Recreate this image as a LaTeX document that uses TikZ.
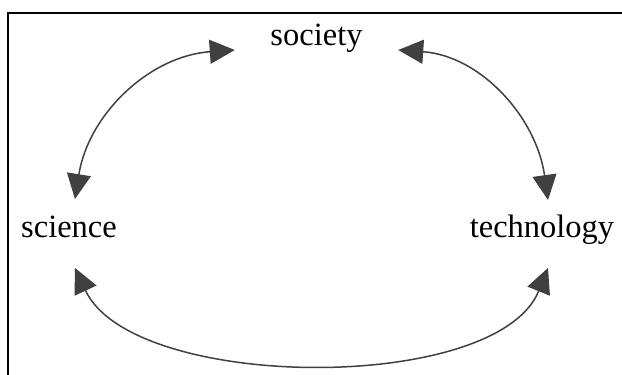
\documentclass[tikz,border=0pt]{standalone}
\usepackage{fontspec}
\setmainfont{Liberation Serif}
\usetikzlibrary{arrows.meta}
\definecolor{linkgray}{HTML}{404040}
\tikzset{
  word/.style={inner sep=0pt, anchor=base, font=\fontsize{32.5}{38}\selectfont},
  link/.style={draw=linkgray, line width=1.5pt, {Triangle[length=25pt,width=24pt]}-{Triangle[length=25pt,width=24pt]}}
}
\begin{document}
\begin{tikzpicture}[x=1pt,y=1pt]
\useasboundingbox (0,0) rectangle (622,375);
% frame, only top and left sides show
\draw[line width=1.5pt] (622,362) -- (8,362) -- (8,0);

% the three words
\node[word] (society) at (316.5,329) {society};
\node[word] (science) at (69,137) {science};
\node[word] (technology) at (542,137) {technology};

% two-headed arcs between them
\draw[link] ([shift={(6,39)}]science.base) to[out=81,in=184] ([shift={(-35.5,-4)}]society.base west);
\draw[link] ([shift={(35.5,-4)}]society.base east) to[out=-4,in=98] ([shift={(6,38)}]technology.base);
\draw[link] ([shift={(6,-30)}]science.base) to[out=-65,in=-112,looseness=0.74] ([shift={(6,-30)}]technology.base);
\end{tikzpicture}
\end{document}
